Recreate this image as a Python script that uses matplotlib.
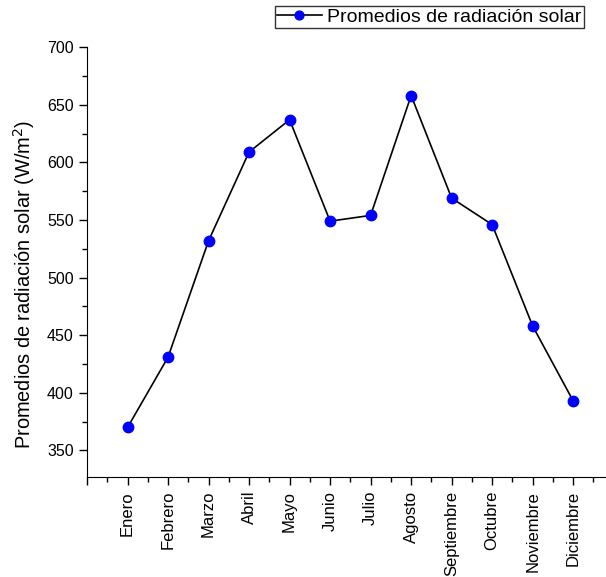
import matplotlib
matplotlib.use("Agg")
import matplotlib.pyplot as plt
from matplotlib.ticker import MultipleLocator
import numpy as np

plt.rcParams['font.family'] = ['Liberation Sans', 'DejaVu Sans']

# Monthly averages of solar radiation (W/m2)
months = ["Enero", "Febrero", "Marzo", "Abril", "Mayo", "Junio", "Julio",
          "Agosto", "Septiembre", "Octubre", "Noviembre", "Diciembre"]
radiation = [370, 431, 532, 609, 637, 549, 554, 658, 569, 546, 458, 393]

fig = plt.figure(figsize=(6.06, 5.77), dpi=100)
ax = fig.add_axes([0.1436, 0.1733, 0.8564, 0.745])

x = np.arange(1, len(months) + 1)
line, = ax.plot(x, radiation, '-', color='black', lw=1.2, marker='o',
                markersize=7.5, markerfacecolor='#0000FF', markeredgecolor='#0000FF',
                label="Promedios de radiación solar")

ax.set_xlim(0, 12.81)
ax.set_ylim(327, 700)

ax.spines['top'].set_visible(False)
ax.spines['right'].set_visible(False)

ax.set_xticks(np.arange(0, 13))
ax.set_xticklabels([""] + months, rotation=90)
ax.xaxis.set_minor_locator(MultipleLocator(0.5))
ax.set_yticks(np.arange(350, 701, 50))
ax.yaxis.set_minor_locator(MultipleLocator(25))
ax.tick_params(axis='both', which='major', direction='out', length=6, width=1, labelsize=11.5)
ax.tick_params(axis='x', which='major', labelsize=12, pad=4)
ax.tick_params(axis='both', which='minor', direction='out', length=3.5, width=1)

ax.set_ylabel("Promedios de radiación solar (W/m$^2$)", fontsize=14.4)
ax.yaxis.set_label_coords(-0.096, 0.449)

fig.legend(handles=[line], loc='upper right', bbox_to_anchor=(0.964, 0.99),
           fontsize=14, frameon=True, fancybox=False, edgecolor='black',
           borderpad=0.12, handlelength=2.3, handletextpad=0.3, borderaxespad=0,
           markerscale=0.85)

fig.savefig("out.png", dpi=100)
